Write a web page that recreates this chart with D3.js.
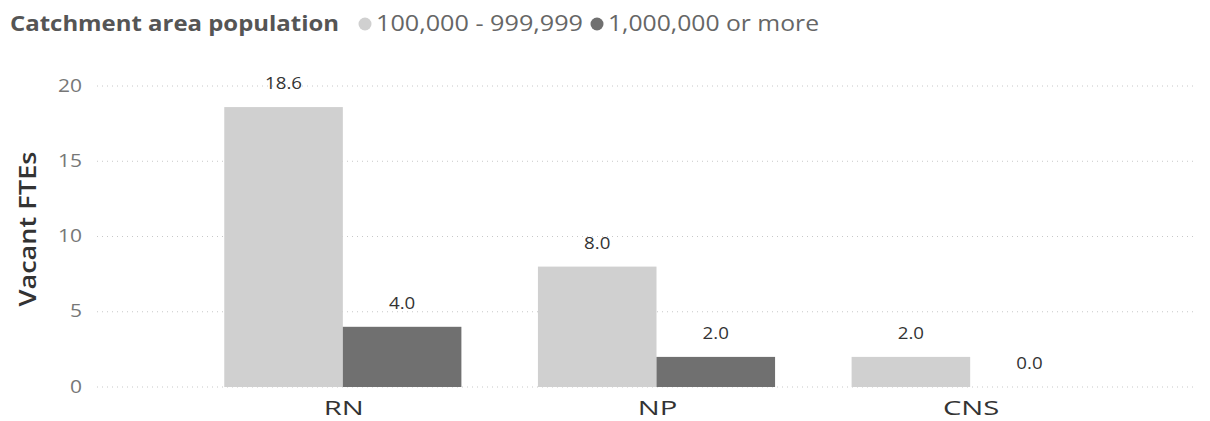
<!DOCTYPE html>
<html>
<head>
<meta charset="utf-8">
<script src="https://cdn.jsdelivr.net/npm/d3@7"></script>
<style>
    body { margin: 0; background: #fff; }
    text { font-family: "Segoe UI", "Open Sans", sans-serif; }
</style>
</head>
<body>
<svg id="chart" width="1210" height="421"></svg>
<script>
// 数据
const categories = ['RN', 'NP', 'CNS']
const seriesNames = ['100,000 - 999,999', '1,000,000 or more']
const seriesColors = ['#d0d0d0', '#707070']
const midSize = [18.6, 8.0, 2.0]
const largeSize = [4.0, 2.0, 0.0]
const yTicks = [0, 5, 10, 15, 20]

const svg = d3.select('#chart')

// 字体宽度校正: 按样本文字的目标宽度横向拉伸
function stretch(sel, sampleNode, targetWidth) {
    const factor = targetWidth / sampleNode.getComputedTextLength()
    sel.each(function () {
        const w = this.getComputedTextLength()
        d3.select(this)
            .attr('textLength', w * factor)
            .attr('lengthAdjust', 'spacingAndGlyphs')
    })
}

const x = d3.scaleBand()
    .domain(categories)
    .range([186, 1127])
    .paddingInner(0.244)
    .paddingOuter(0.122)

const xSub = d3.scaleBand()
    .domain(seriesNames)
    .range([0, x.bandwidth()])

const y = d3.scaleLinear()
    .domain([0, 20])
    .range([387, 86])

// 网格线
svg.append('g')
    .selectAll('line')
    .data(yTicks)
    .join('line')
    .attr('x1', 97)
    .attr('x2', 1196)
    .attr('y1', d => y(d))
    .attr('y2', d => y(d))
    .attr('stroke', '#c8c8c8')
    .attr('stroke-width', 1)
    .attr('stroke-dasharray', '1,4')

// y 轴刻度
const tickText = svg.append('g')
    .selectAll('text')
    .data(yTicks)
    .join('text')
    .attr('x', 82)
    .attr('y', d => y(d))
    .attr('dy', '0.3em')
    .attr('text-anchor', 'end')
    .attr('fill', '#777')
    .style('font-size', '19px')
    .text(d => d)
stretch(tickText, tickText.nodes()[4], 24)

// y 轴标题
const yTitle = svg.append('text')
    .attr('transform', 'translate(36,229) rotate(-90)')
    .attr('text-anchor', 'middle')
    .attr('fill', '#333')
    .style('font-size', '23px')
    .style('font-weight', '600')
    .text('Vacant FTEs')
stretch(yTitle, yTitle.node(), 155)

const rows = categories.map((c, i) => ({
    category: c,
    values: [midSize[i], largeSize[i]],
}))

const groups = svg.append('g')
    .selectAll('g')
    .data(rows)
    .join('g')
    .attr('transform', d => `translate(${x(d.category)},0)`)

groups.selectAll('rect')
    .data(d => d.values.map((v, j) => ({ v, s: seriesNames[j], j })))
    .join('rect')
    .attr('x', d => xSub(d.s))
    .attr('width', xSub.bandwidth())
    .attr('y', d => y(d.v))
    .attr('height', d => y(0) - y(d.v))
    .attr('fill', d => seriesColors[d.j])

// 数值标签
const valueText = groups.selectAll('text')
    .data(d => d.values.map((v, j) => ({ v, s: seriesNames[j], j })))
    .join('text')
    .attr('x', d => xSub(d.s) + xSub.bandwidth() / 2)
    .attr('y', d => y(d.v) - 18)
    .attr('text-anchor', 'middle')
    .attr('fill', '#333')
    .style('font-size', '17px')
    .text(d => d.v.toFixed(1))
stretch(valueText, valueText.nodes()[0], 37)

// x 轴标签
const xText = svg.append('g')
    .selectAll('text')
    .data(categories)
    .join('text')
    .attr('x', d => x(d) + x.bandwidth() / 2 + 1)
    .attr('y', 415)
    .attr('text-anchor', 'middle')
    .attr('fill', '#333')
    .style('font-size', '20px')
    .text(d => d)
stretch(xText, xText.nodes()[0], 40)

// 图例
const legend = svg.append('g')
const title = legend.append('text')
    .attr('x', 10)
    .attr('y', 31)
    .attr('fill', '#555')
    .style('font-size', '22px')
    .style('font-weight', 'bold')
    .text('Catchment area population')
stretch(title, title.node(), 329)

let lx = 10 + 329 + 19
seriesNames.forEach((name, i) => {
    const w = i === 0 ? 207 : 211
    legend.append('circle')
        .attr('cx', lx + 7)
        .attr('cy', 24)
        .attr('r', 6.5)
        .attr('fill', seriesColors[i])
    const t = legend.append('text')
        .attr('x', lx + 18)
        .attr('y', 31)
        .attr('fill', '#666')
        .style('font-size', '21px')
        .text(name)
    stretch(t, t.node(), w)
    lx += 18 + w + 7
})
</script>
</body>
</html>
